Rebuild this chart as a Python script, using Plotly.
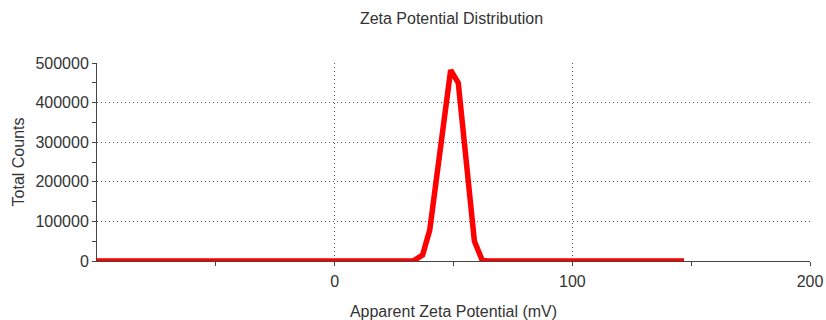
import plotly.graph_objects as go

# Data
zeta_mv = [-100, 33, 37, 40, 48.8, 52, 58.8, 62, 64, 147]
total_counts = [0, 0, 15000, 78000, 482000, 450000, 50000, 3000, 0, 0]

x_tickvals = [0, 100, 200]
y_tickvals = [0, 100000, 200000, 300000, 400000, 500000]

font_family = "Liberation Sans, Arial, sans-serif"
text_color = "#333333"
fs = 16

fig = go.Figure()
fig.add_trace(go.Scatter(
    x=zeta_mv, y=total_counts, mode="lines",
    line=dict(color="#ff0000", width=5.5),
    cliponaxis=False, showlegend=False,
))

W, H = 826, 320
fig.update_layout(
    width=W, height=H,
    margin=dict(l=97, r=16, t=63, b=59, autoexpand=False),
    paper_bgcolor="white", plot_bgcolor="white",
    font=dict(family=font_family, size=fs, color=text_color),
    title=dict(text="Zeta Potential Distribution", x=(97 + 713 / 2 - 2) / W, xanchor="center",
               yref="container", y=1 - 18 / H, yanchor="middle", pad=dict(t=0, b=0),
               font=dict(size=fs, color=text_color)),
)

fig.update_xaxes(
    range=[-100, 200], tickvals=x_tickvals, ticktext=[str(v) for v in x_tickvals],
    showgrid=True, gridcolor="#555555", griddash="1px,3px", gridwidth=1,
    showline=True, linecolor="#444444", linewidth=1,
    ticks="outside", ticklen=4, tickcolor="#444444",
    minor=dict(tickvals=[-50, 50, 150], ticks="outside", ticklen=4, tickcolor="#444444", showgrid=False),
    zeroline=False, automargin=False,
    title=dict(text="Apparent Zeta Potential (mV)", standoff=19, font=dict(size=fs)),
    tickfont=dict(size=fs),
    ticklabelstandoff=2,
    ticklabeloverflow="allow",
)
fig.update_yaxes(
    range=[0, 500000], tickvals=y_tickvals, ticktext=[str(v) for v in y_tickvals],
    showgrid=True, gridcolor="#555555", griddash="1px,3px", gridwidth=1,
    showline=True, linecolor="#444444", linewidth=1,
    ticks="outside", ticklen=4, tickcolor="#444444",
    minor=dict(tickvals=[50000, 150000, 250000, 350000, 450000], ticks="outside", ticklen=4,
               tickcolor="#444444", showgrid=False),
    zeroline=False, automargin=False,
    title=dict(text="Total Counts", standoff=6, font=dict(size=fs)),
    tickfont=dict(size=fs),
)

# remove the page's default 8px body margin so the figure fills the window
fig.write_html("out.html", config={"displayModeBar": False},
               post_script="document.body.style.margin='0';")
